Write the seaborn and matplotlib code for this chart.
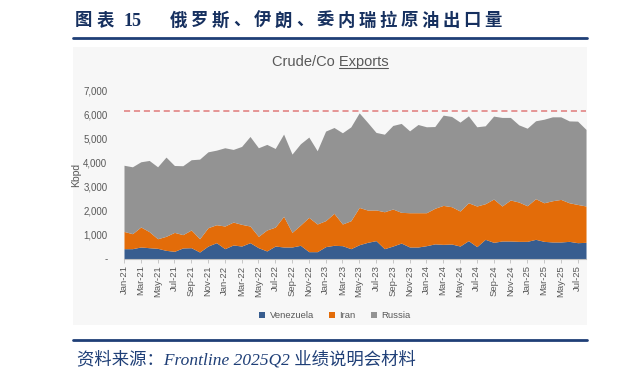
import numpy as np
import pandas as pd
import matplotlib
matplotlib.use("Agg")
import matplotlib.pyplot as plt
from matplotlib.patches import Rectangle, Patch
from matplotlib.lines import Line2D
import seaborn as sns

# ---------------- data ----------------
months = pd.date_range("2021-01-01", "2025-08-01", freq="MS")
month_labels = [d.strftime("%b-%y") for d in months]

venezuela = [410, 410, 480, 450, 425, 340, 300, 440, 450, 270,
             520, 660, 410, 565, 520, 660, 450, 315, 520, 480,
             480, 550, 285, 285, 495, 550, 535, 410, 575, 675,
             745, 410, 520, 645, 480, 480, 535, 610, 590, 605,
             520, 745, 495, 800, 675, 730, 730, 715, 715, 800,
             715, 690, 690, 715, 660, 675]
iran = [720, 625, 835, 670, 400, 585, 790, 555, 740, 555,
        765, 750, 945, 955, 905, 695, 475, 875, 790, 1280,
        610, 845, 1430, 1155, 1085, 1335, 905, 1165, 1555, 1345,
        1280, 1540, 1545, 1280, 1430, 1430, 1375, 1485, 1625, 1555,
        1460, 1580, 1695, 1485, 1805, 1460, 1710, 1640, 1485, 1695,
        1610, 1720, 1775, 1610, 1595, 1515]
russia = [2760, 2790, 2720, 2970, 3000, 3305, 2790, 2875, 2930, 3320,
          3165, 3110, 3265, 3030, 3250, 3735, 3695, 3570, 3280, 3430,
          3265, 3390, 3350, 3055, 3735, 3580, 3805, 3915, 3945, 3655,
          3235, 3235, 3485, 3710, 3415, 3680, 3585, 3410, 3765, 3765,
          3710, 3625, 3305, 3250, 3460, 3695, 3445, 3220, 3235, 3250,
          3485, 3500, 3445, 3415, 3475, 3195]
ref_level = 6150

series_names = ["Venezuela", "Iran", "Russia"]
series_colors = ["#385d8f", "#e36c09", "#939393"]
y_ticks = [0, 1000, 2000, 3000, 4000, 5000, 6000, 7000]
y_tick_labels = ["-", "1,000", "2,000", "3,000", "4,000", "5,000", "6,000", "7,000"]

title_parts = ["图表", "15", "俄罗斯、伊朗、委内瑞拉原油出口量"]
source_text = "资料来源：Frontline 2025Q2 业绩说明会材料"
chart_title_a = "Crude/Co "
chart_title_b = "Exports"

df = pd.DataFrame({"month": np.arange(len(months)),
                   "Venezuela": venezuela, "Iran": iran, "Russia": russia})

# ---------------- style ----------------
sns.set_theme(style="white")
plt.rcParams["font.family"] = ["Liberation Sans", "Noto Sans CJK SC", "DejaVu Sans"]

W, H = 620, 380
fig = plt.figure(figsize=(W / 100, H / 100), dpi=100)
fig.patch.set_facecolor("white")
renderer = fig.canvas.get_renderer()

def fx(px):
    return px / W

def fy(py):
    return 1 - py / H

navy = "#1f3f77"
head_fam = ["Liberation Serif", "Noto Sans CJK SC", "DejaVu Sans"]

def spaced_text(x_px, y_px, s, gap_px, **kw):
    x = x_px
    for ch in s:
        t = fig.text(fx(x), fy(y_px), ch, va="center", ha="left", **kw)
        w = t.get_window_extent(renderer).width
        x += w + gap_px
    return x

# header
hkw = dict(fontsize=12.5, fontweight="bold", color="#16305f", family=head_fam)
spaced_text(75, 21, title_parts[0], 4, **hkw)
fig.text(fx(124), fy(21), title_parts[1], va="center", ha="left", fontsize=13,
         fontweight="bold", color="#16305f", family=head_fam)
spaced_text(170, 21, title_parts[2], 3.6, **hkw)
fig.add_artist(Line2D([fx(73), fx(587)], [fy(37.5), fy(37.5)], color=navy, lw=2.0))

# panel background
fig.add_artist(Rectangle((fx(73), fy(325)), fx(587) - fx(73), fy(47) - fy(325),
                         facecolor="#f7f7f7", edgecolor="none", zorder=0))

# footer
fig.add_artist(Line2D([fx(73), fx(587)], [fy(340), fy(340)], color=navy, lw=2.0))
fig.text(fx(77), fy(360), source_text, fontsize=12.5, style="italic", color=navy,
         family=head_fam, va="center", ha="left")

# main axes
x_left, x_right = 124, 586
y_zero, y_top = 258.5, 90.7
ax = fig.add_axes([fx(x_left), fy(y_zero), fx(x_right) - fx(x_left), fy(y_top) - fy(y_zero)])
ax.set_facecolor("none")

ax.stackplot(df["month"], df["Venezuela"], df["Iran"], df["Russia"],
             colors=series_colors, labels=series_names, linewidth=0)
sns.lineplot(x=[df["month"].iloc[0], df["month"].iloc[-1]], y=[ref_level, ref_level],
             ax=ax, color="#e07b7b", linestyle=(0, (4, 2.5)), linewidth=1.1, legend=False)

ax.set_xlim(df["month"].iloc[0], df["month"].iloc[-1])
ax.set_ylim(0, 7000)
ax.set_yticks(y_ticks)
ax.set_yticklabels(y_tick_labels, fontsize=7, color="#595959")
xt = df["month"].values[::2]
ax.set_xticks(xt)
ax.set_xticklabels([month_labels[i] for i in xt], rotation=90, fontsize=6.8, color="#595959")
ax.tick_params(axis="y", length=0, pad=12)
ax.tick_params(axis="x", length=3, width=0.6, color="#bfbfbf", pad=2, bottom=True)
for s in ["top", "right", "left"]:
    ax.spines[s].set_visible(False)
ax.spines["bottom"].set_color("#bfbfbf")
ax.spines["bottom"].set_linewidth(0.8)
ax.set_xlabel("")
ax.set_ylabel("Kbpd", fontsize=7.5, color="#595959")
ax_w = fx(x_right) - fx(x_left)
ax.yaxis.set_label_coords((fx(81) - fx(x_left)) / ax_w, 0.5)

# chart title with underline on "Exports"
t1 = fig.text(fx(330), fy(62), chart_title_a + chart_title_b, fontsize=10.5,
              color="#595959", ha="center", va="center")
bb_all = t1.get_window_extent(renderer)
tmp = fig.text(0, 0, chart_title_b, fontsize=10.5)
bb_b = tmp.get_window_extent(renderer)
tmp.remove()
x1 = bb_all.x1 / W
x0 = x1 - bb_b.width / W
yline = (bb_all.y0 + 1.5) / H
fig.add_artist(Line2D([x0, x1], [yline, yline], color="#595959", lw=0.8))

# legend
handles = [Patch(facecolor=c, edgecolor="none", label=n) for n, c in zip(series_names, series_colors)]
fig.legend(handles=handles, loc="center", bbox_to_anchor=(fx(335), fy(316)), ncol=3,
           frameon=False, fontsize=6.8, handlelength=0.6, handleheight=0.6,
           handletextpad=0.5, columnspacing=1.6, labelcolor="#595959")

fig.savefig("out.png", dpi=100, facecolor="white")
